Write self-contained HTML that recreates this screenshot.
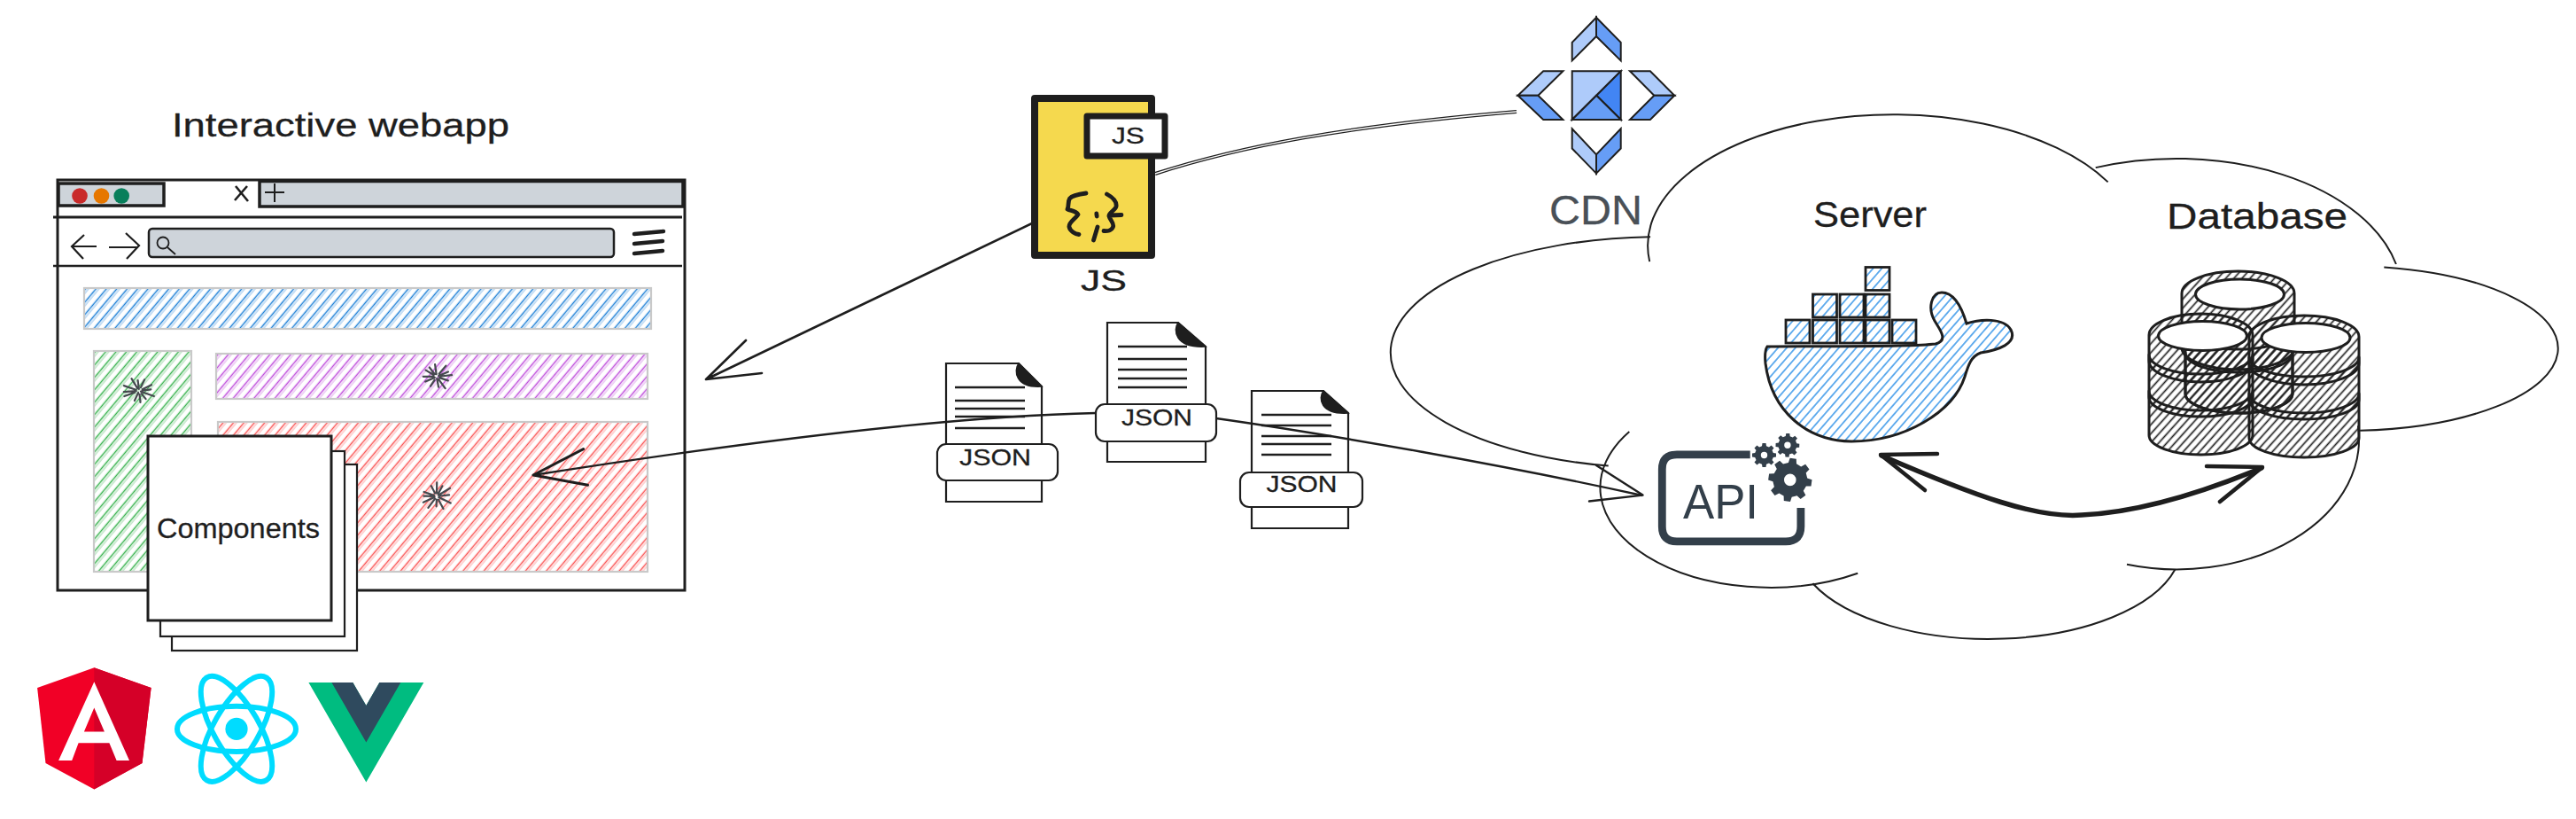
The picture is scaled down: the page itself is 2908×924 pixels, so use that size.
<!DOCTYPE html>
<html><head><meta charset="utf-8"><title>Diagram</title>
<style>
html,body{margin:0;padding:0;background:#ffffff;width:2908px;height:924px;overflow:hidden}
svg{display:block}
text{font-family:"Liberation Sans",sans-serif}
.hw{stroke-width:0.3px;stroke-linejoin:round}
</style></head>
<body>
<svg width="2908" height="924" viewBox="0 0 2908 924">
<defs>
<pattern id="hBlue" width="9" height="9" patternUnits="userSpaceOnUse" patternTransform="rotate(40)"><line x1="4.5" y1="-1" x2="4.5" y2="10" stroke="#1c7ed6" stroke-width="1.5"/><line x1="7.1" y1="-1" x2="7.1" y2="10" stroke="#1c7ed6" stroke-width="0.5"/></pattern>
<pattern id="hPurple" width="9" height="9" patternUnits="userSpaceOnUse" patternTransform="rotate(40)"><line x1="4.5" y1="-1" x2="4.5" y2="10" stroke="#be4bdb" stroke-width="1.5"/><line x1="7.1" y1="-1" x2="7.1" y2="10" stroke="#be4bdb" stroke-width="0.5"/></pattern>
<pattern id="hGreen" width="9" height="9" patternUnits="userSpaceOnUse" patternTransform="rotate(40)"><line x1="4.5" y1="-1" x2="4.5" y2="10" stroke="#37b24d" stroke-width="1.5"/><line x1="7.1" y1="-1" x2="7.1" y2="10" stroke="#37b24d" stroke-width="0.5"/></pattern>
<pattern id="hRed" width="9" height="9" patternUnits="userSpaceOnUse" patternTransform="rotate(40)"><line x1="4.5" y1="-1" x2="4.5" y2="10" stroke="#fa5252" stroke-width="1.5"/><line x1="7.1" y1="-1" x2="7.1" y2="10" stroke="#fa5252" stroke-width="0.5"/></pattern>
<pattern id="hWhale" width="7.4" height="7.4" patternUnits="userSpaceOnUse" patternTransform="rotate(41)"><line x1="3.7" y1="-1" x2="3.7" y2="8.4" stroke="#228be6" stroke-width="1.35"/></pattern>
<pattern id="hDark" width="6.8" height="6.8" patternUnits="userSpaceOnUse" patternTransform="rotate(42)"><line x1="3.4" y1="-1" x2="3.4" y2="7.8" stroke="#1e1e1e" stroke-width="1.7"/></pattern>
</defs>
<text class="hw" stroke="#1e1e1e" x="194" y="154" font-size="36" textLength="381" lengthAdjust="spacingAndGlyphs" fill="#1e1e1e">Interactive webapp</text>
<rect x="95" y="325" width="640" height="46" fill="url(#hBlue)" stroke="#c9c9c9" stroke-width="2.2"/>
<rect x="106" y="396" width="110" height="249" fill="url(#hGreen)" stroke="#c9c9c9" stroke-width="2.2"/>
<rect x="244" y="399" width="487" height="51" fill="url(#hPurple)" stroke="#c9c9c9" stroke-width="2.2"/>
<rect x="246" y="476" width="485" height="169" fill="url(#hRed)" stroke="#c9c9c9" stroke-width="2.2"/>
<path d="M65 203 H773 V666 H65 Z" fill="none" stroke="#1e1e1e" stroke-width="3"/>
<path d="M66 207 H185 V232 H66 Z" fill="#ced4da" stroke="#1e1e1e" stroke-width="3.5"/>
<path d="M293 204.5 H771 V233 H293 Z" fill="#ced4da" stroke="#1e1e1e" stroke-width="3.5"/>
<circle cx="90" cy="221" r="8.8" fill="#c92a2a"/><circle cx="114.5" cy="221" r="8.8" fill="#e67700"/><circle cx="137.2" cy="221" r="8.8" fill="#087f5b"/>
<path d="M266 210 L280 227 M279 210 L265 226" stroke="#1e1e1e" stroke-width="2.6" fill="none"/>
<path d="M299 217 H321 M310 207 V228" stroke="#1e1e1e" stroke-width="2" fill="none"/>
<path d="M60 245 H770" stroke="#1e1e1e" stroke-width="3"/>
<path d="M109 278 H82 M95 265 L81 278 L94 292" stroke="#1e1e1e" stroke-width="2.2" fill="none"/>
<path d="M123 279 H156 M142 263 L157 277 L143 292" stroke="#1e1e1e" stroke-width="2.2" fill="none"/>
<rect x="168" y="258" width="525" height="32" rx="4" fill="#ced4da" stroke="#1e1e1e" stroke-width="2.5"/>
<circle cx="184" cy="274" r="6.5" fill="none" stroke="#1e1e1e" stroke-width="1.8"/><path d="M189 279 L198 287" stroke="#1e1e1e" stroke-width="1.8"/>
<path d="M716 264 L749 261 M716 275 L748 272 M716 286 L748 283" stroke="#1e1e1e" stroke-width="4.5" stroke-linecap="round"/>
<path d="M60 300 H770" stroke="#1e1e1e" stroke-width="2.5"/>
<path d="M160.5 440.6 L170.3 439.4 M158.9 441.7 L173.9 447.0 M159.6 444.1 L164.6 450.1 M157.5 444.9 L158.5 453.8 M156.1 443.0 L151.9 452.0 M152.4 442.6 L140.4 447.0 M153.8 441.2 L139.9 442.2 M153.4 439.8 L139.9 435.1 M155.2 438.1 L148.5 427.2 M156.8 438.9 L155.6 429.1 M158.9 437.1 L163.1 428.3 M160.7 439.2 L171.0 434.2 " stroke="#45494e" stroke-width="2.2" fill="none" stroke-linecap="round"/>
<path d="M497.4 424.5 L510.0 423.1 M496.1 426.1 L505.8 429.4 M495.3 428.1 L502.6 438.2 M493.3 426.8 L495.0 436.6 M490.6 428.7 L486.0 435.6 M490.8 425.9 L480.2 430.5 M489.6 424.9 L477.7 424.8 M489.6 423.0 L480.6 417.6 M490.8 422.2 L484.8 414.5 M492.6 422.1 L491.1 411.1 M495.7 421.8 L503.4 412.6 M495.2 424.0 L505.9 419.5 " stroke="#45494e" stroke-width="2.2" fill="none" stroke-linecap="round"/>
<path d="M496.9 559.5 L507.1 558.4 M495.3 561.1 L508.7 567.6 M495.0 563.7 L500.5 573.9 M492.9 563.5 L492.6 571.3 M491.1 562.6 L483.4 572.8 M490.4 561.1 L477.8 566.7 M490.5 559.9 L478.3 559.7 M489.8 558.9 L478.6 555.0 M491.1 556.5 L486.7 548.1 M493.0 556.6 L493.2 544.3 M494.7 556.9 L499.4 548.3 M494.9 558.8 L508.0 550.8 " stroke="#45494e" stroke-width="2.2" fill="none" stroke-linecap="round"/>
<g stroke="#1e1e1e" fill="#ffffff"><rect x="194" y="524" width="209" height="210" stroke-width="2.2"/><rect x="181" y="509" width="208" height="209" stroke-width="2.2"/><rect x="167" y="492" width="207" height="208" stroke-width="3"/></g>
<text class="hw" stroke="#1e1e1e" x="177" y="607" font-size="32" textLength="184" lengthAdjust="spacingAndGlyphs" fill="#1e1e1e">Components</text>
<polygon points="106.3,753.3 170.6,776 160.5,861 106.3,890.4 51.5,861 42.1,776" fill="#f10026"/>
<polygon points="106.3,753.3 170.6,776 160.5,861 106.3,890.4" fill="#d50028"/>
<path d="M106.3 769.3 L66.1 858 H81.2 L88.6 838.3 H123.4 L131.6 858 H146 Z M106.3 798.6 L117.9 825.4 H94.9 Z" fill="#ffffff" fill-rule="evenodd"/>
<g transform="translate(267 822.4)" fill="none" stroke="#00dcff" stroke-width="6"><circle r="12.6" fill="#00dcff" stroke="none"/><ellipse rx="67" ry="25.6"/><ellipse rx="67" ry="25.6" transform="rotate(60)"/><ellipse rx="67" ry="25.6" transform="rotate(120)"/></g>
<g transform="translate(348.4 769.9) scale(0.4963)"><path d="M161.096.001l-30.225 52.351L100.647.001H-.005l130.877 226.688L261.749.001z" fill="#00bc80"/><path d="M161.096.001l-30.225 52.351L100.647.001H52.346l78.526 136.01L209.398.001z" fill="#2f4a5e"/></g>
<path d="M1304 196 C1400 165 1520 142 1712 126" fill="none" stroke="#1e1e1e" stroke-width="4"/>
<path d="M1304 196 C1400 165 1520 142 1712 126" fill="none" stroke="#fff" stroke-width="1.4"/>
<path d="M1165 252 L797 428 M842 384 L797 428 L860 421" fill="none" stroke="#1e1e1e" stroke-width="2.6" stroke-linejoin="round" stroke-linecap="round"/>
<rect x="1168" y="111" width="132" height="177" fill="#f5d94e" stroke="#1e1e1e" stroke-width="8" stroke-linejoin="round"/>
<rect x="1227" y="131" width="88" height="45" fill="#ffffff" stroke="#1e1e1e" stroke-width="7" stroke-linejoin="round"/>
<text class="hw" stroke="#1e1e1e" x="1255" y="162" font-size="25" textLength="37" lengthAdjust="spacingAndGlyphs" fill="#1e1e1e">JS</text>
<g fill="none" stroke="#1e1e1e" stroke-width="4.8" stroke-linecap="round" stroke-linejoin="round"><path d="M1226 218 C1218 219 1210 221 1207.5 224 C1205 228 1207 232 1205 236 C1208 238 1214 237 1217 242 C1214 247 1206 251 1207 256 C1208 261 1214 264 1218 264.5"/><path d="M1237.8 241 L1238.2 244"/><path d="M1239 256 L1234.5 271"/><path d="M1249.5 219 C1255 222 1261 227 1260 233 C1259 237 1253 239 1252 243 L1266 242.5 M1252 244 C1253 248 1258 252 1256.5 256 C1255 260 1250 261 1246 260.5"/></g>
<text class="hw" stroke="#1e1e1e" x="1220" y="328" font-size="33" textLength="52" lengthAdjust="spacingAndGlyphs" fill="#1e1e1e">JS</text>
<g stroke="#1e1e1e" stroke-width="2">
<polygon points="1774.7,47.9 1802,19.8 1802,41 1774.7,68.4" fill="#aecbfa"/>
<polygon points="1802,19.8 1829.7,47.9 1829.7,68.4 1802,41" fill="#669df6"/>
<polygon points="1774.7,145.3 1802,174.4 1802,195.6 1774.7,167.5" fill="#aecbfa"/>
<polygon points="1829.7,145.3 1802,174.4 1802,195.6 1829.7,167.5" fill="#669df6"/>
<polygon points="1742.2,80.3 1764.4,80.3 1736.4,107.7 1713.5,107.7" fill="#aecbfa"/>
<polygon points="1713.5,107.7 1736.4,107.7 1764.4,135 1742.2,135" fill="#669df6"/>
<polygon points="1840,80.3 1862.9,80.3 1890.3,107.7 1867.3,107.7" fill="#aecbfa"/>
<polygon points="1867.3,107.7 1890.3,107.7 1862.9,135 1840,135" fill="#669df6"/>
<polygon points="1774.7,80.3 1829.7,80.3 1774.7,135" fill="#aecbfa"/>
<polygon points="1829.7,80.3 1829.7,135 1802.2,107.7" fill="#4285f4"/>
<polygon points="1774.7,135 1829.7,135 1802.2,107.7" fill="#669df6"/>
</g>
<text class="hw" stroke="#495057" x="1749" y="253" font-size="46" textLength="105" lengthAdjust="spacingAndGlyphs" fill="#495057">CDN</text>
<path d="M1068 410 H1150 L1176 436 V566 H1068 Z" fill="#fff" stroke="#1e1e1e" stroke-width="2.2"/>
<path d="M1150 410 C1144 418 1146 438 1176 436 Z" fill="#1e1e1e" stroke="#1e1e1e" stroke-width="1.5"/>
<path d="M1078 437 H1157 M1078 452 H1157 M1078 461 H1157 M1078 470 H1157 M1078 483 H1157" stroke="#1e1e1e" stroke-width="2.4"/>
<rect x="1058" y="501" width="136" height="41" rx="10" fill="#fff" stroke="#1e1e1e" stroke-width="2.2"/>
<text class="hw" stroke="#1e1e1e" x="1083" y="525" font-size="26" textLength="81" lengthAdjust="spacingAndGlyphs" fill="#1e1e1e">JSON</text>
<path d="M1413 441 H1494 L1522 466 V596 H1413 Z" fill="#fff" stroke="#1e1e1e" stroke-width="2.2"/>
<path d="M1494 441 C1488 449 1490 468 1522 466 Z" fill="#1e1e1e" stroke="#1e1e1e" stroke-width="1.5"/>
<path d="M1424 468 H1503 M1424 480 H1503 M1424 492 H1503 M1424 501 H1503 M1424 513 H1503" stroke="#1e1e1e" stroke-width="2.4"/>
<rect x="1400" y="533" width="138" height="39" rx="10" fill="#fff" stroke="#1e1e1e" stroke-width="2.2"/>
<text class="hw" stroke="#1e1e1e" x="1429.5" y="555" font-size="26" textLength="80" lengthAdjust="spacingAndGlyphs" fill="#1e1e1e">JSON</text>
<path d="M602 536 C800 505 1050 470 1237 466 C1300 464 1340 466 1373 472 C1500 490 1700 525 1854 559" fill="none" stroke="#1e1e1e" stroke-width="2.4"/>
<path d="M1250 364 H1330 L1361 391 V521 H1250 Z" fill="#fff" stroke="#1e1e1e" stroke-width="2.2"/>
<path d="M1330 364 C1324 372 1326 393 1361 391 Z" fill="#1e1e1e" stroke="#1e1e1e" stroke-width="1.5"/>
<path d="M1262 391 H1340 M1262 405 H1340 M1262 417 H1340 M1262 427 H1340 M1262 437 H1340" stroke="#1e1e1e" stroke-width="2.4"/>
<rect x="1237" y="456" width="136" height="42" rx="10" fill="#fff" stroke="#1e1e1e" stroke-width="2.2"/>
<text class="hw" stroke="#1e1e1e" x="1266" y="480" font-size="26" textLength="80" lengthAdjust="spacingAndGlyphs" fill="#1e1e1e">JSON</text>
<path d="M658.6 506.6 L602 536 L663.5 547.3" fill="none" stroke="#1e1e1e" stroke-width="3" stroke-linecap="round" stroke-linejoin="round"/>
<path d="M1802 525 L1854.5 558.6 L1794 565.5" fill="none" stroke="#1e1e1e" stroke-width="2.4" stroke-linecap="round" stroke-linejoin="round"/>
<g fill="none" stroke="#1e1e1e" stroke-width="2"><path d="M1863.1 267.3 A304.2 130.4 0 0 0 1815.7 525.6"/><path d="M1862.2 295.1 A277.1 147.8 0 0 1 2379.6 205.4"/><path d="M2365.7 189.1 A254.5 153.7 0 0 1 2704.9 298.0"/><path d="M2691.3 301.4 A238.0 93.0 0 0 1 2664.1 485.8"/><path d="M2661.9 480.4 A205.4 146.7 0 0 1 2401.0 636.7"/><path d="M2455.4 642.6 A217.6 105.6 0 0 1 2046.4 658.3"/><path d="M1839.3 486.9 A191.9 112.8 0 0 0 2097.2 646.7"/></g>
<text class="hw" stroke="#1e1e1e" x="2047" y="256" font-size="40" textLength="128" lengthAdjust="spacingAndGlyphs" fill="#1e1e1e">Server</text>
<text class="hw" stroke="#1e1e1e" x="2446" y="258" font-size="40" textLength="204" lengthAdjust="spacingAndGlyphs" fill="#1e1e1e">Database</text>
<path d="M1995 391 C2060 390 2150 392 2185 388 C2200 384 2190 372 2184 362 C2176 348 2180 330 2192 330 C2205 330 2214 345 2220 365 C2235 360 2262 358 2270 372 C2278 388 2255 395 2236 398 C2225 402 2222 412 2218 425 C2205 465 2150 498 2090 498 C2040 497 2000 465 1993 410 C1992 400 1993 394 1995 391 Z" fill="url(#hWhale)" stroke="#1e1e1e" stroke-width="3"/>
<rect x="2016" y="361" width="27" height="26" fill="url(#hWhale)" stroke="#1e1e1e" stroke-width="2.8"/>
<rect x="2046.5" y="361" width="27" height="26" fill="url(#hWhale)" stroke="#1e1e1e" stroke-width="2.8"/>
<rect x="2077" y="361" width="27" height="26" fill="url(#hWhale)" stroke="#1e1e1e" stroke-width="2.8"/>
<rect x="2106" y="361" width="27" height="26" fill="url(#hWhale)" stroke="#1e1e1e" stroke-width="2.8"/>
<rect x="2136" y="361" width="27" height="26" fill="url(#hWhale)" stroke="#1e1e1e" stroke-width="2.8"/>
<rect x="2046.5" y="332" width="27" height="26" fill="url(#hWhale)" stroke="#1e1e1e" stroke-width="2.8"/>
<rect x="2077" y="332" width="27" height="26" fill="url(#hWhale)" stroke="#1e1e1e" stroke-width="2.8"/>
<rect x="2106" y="332" width="27" height="26" fill="url(#hWhale)" stroke="#1e1e1e" stroke-width="2.8"/>
<rect x="2106" y="301.5" width="27" height="26" fill="url(#hWhale)" stroke="#1e1e1e" stroke-width="2.8"/>
<path d="M1975.7 512.8 H1893 Q1876.3 512.8 1876.3 529.5 V594 Q1876.3 610.8 1893 610.8 H2016 Q2032.9 610.8 2032.9 594 V573" fill="none" stroke="#333f4a" stroke-width="8.8"/>
<text x="1900" y="585" font-size="55" textLength="85" lengthAdjust="spacingAndGlyphs" fill="#333f4a">API</text>
<path d="M2040.2 539.5 L2045.5 541.2 L2044.5 548.4 L2038.9 548.6 L2035.8 553.8 L2038.4 558.7 L2032.6 563.1 L2028.6 559.3 L2022.7 560.8 L2021.0 566.1 L2013.8 565.1 L2013.6 559.5 L2008.4 556.4 L2003.5 559.0 L1999.1 553.2 L2002.9 549.2 L2001.4 543.3 L1996.1 541.6 L1997.1 534.4 L2002.7 534.2 L2005.8 529.0 L2003.2 524.1 L2009.0 519.7 L2013.0 523.5 L2018.9 522.0 L2020.6 516.7 L2027.8 517.7 L2028.0 523.3 L2033.2 526.4 L2038.1 523.8 L2042.5 529.6 L2038.7 533.6 Z M2014.0 541.4 a6.8 6.8 0 1 0 13.6 0 a6.8 6.8 0 1 0 -13.6 0 Z" fill="#333f4a" fill-rule="evenodd"/>
<path d="M2001.8 511.0 L2005.0 511.5 L2005.0 515.5 L2001.8 516.0 L2000.5 519.0 L2002.5 521.6 L1999.6 524.5 L1997.0 522.5 L1994.0 523.8 L1993.5 527.0 L1989.5 527.0 L1989.0 523.8 L1986.0 522.5 L1983.4 524.5 L1980.5 521.6 L1982.5 519.0 L1981.2 516.0 L1978.0 515.5 L1978.0 511.5 L1981.2 511.0 L1982.5 508.0 L1980.5 505.4 L1983.4 502.5 L1986.0 504.5 L1989.0 503.2 L1989.5 500.0 L1993.5 500.0 L1994.0 503.2 L1997.0 504.5 L1999.6 502.5 L2002.5 505.4 L2000.5 508.0 Z M1987.8 513.5 a3.7 3.7 0 1 0 7.4 0 a3.7 3.7 0 1 0 -7.4 0 Z" fill="#333f4a" fill-rule="evenodd"/>
<path d="M2028.2 500.2 L2031.3 500.7 L2031.2 504.7 L2028.0 505.1 L2026.7 508.1 L2028.5 510.6 L2025.6 513.4 L2023.1 511.4 L2020.0 512.6 L2019.5 515.7 L2015.5 515.6 L2015.1 512.4 L2012.1 511.1 L2009.6 512.9 L2006.8 510.0 L2008.8 507.5 L2007.6 504.4 L2004.5 503.9 L2004.6 499.9 L2007.8 499.5 L2009.1 496.5 L2007.3 494.0 L2010.2 491.2 L2012.7 493.2 L2015.8 492.0 L2016.3 488.9 L2020.3 489.0 L2020.7 492.2 L2023.7 493.5 L2026.2 491.7 L2029.0 494.6 L2027.0 497.1 Z M2014.2 502.3 a3.7 3.7 0 1 0 7.4 0 a3.7 3.7 0 1 0 -7.4 0 Z" fill="#333f4a" fill-rule="evenodd"/>
<path d="M2463 331 A63.5 25 0 0 1 2590 331 V392 A63.5 25 0 0 1 2463 392 Z" fill="url(#hDark)" stroke="#1e1e1e" stroke-width="3" stroke-linejoin="round"/>
<ellipse cx="2528.5" cy="332" rx="50" ry="17" fill="#fff" stroke="#1e1e1e" stroke-width="3"/>
<path d="M2467 372 A60.5 22 0 0 0 2588 372 V444 A60.5 22 0 0 1 2467 444 Z" fill="url(#hDark)" stroke="#1e1e1e" stroke-width="3" stroke-linejoin="round"/>
<path d="M2467 398 A60.5 22 0 0 0 2588 398 V444 A60.5 22 0 0 1 2467 444 Z" fill="none" stroke="#1e1e1e" stroke-width="3" stroke-linejoin="round"/>
<path d="M2426 441 A58.5 22 0 0 0 2543 441 V491 A58.5 22 0 0 1 2426 491 Z" fill="url(#hDark)" stroke="#1e1e1e" stroke-width="3" stroke-linejoin="round"/>
<path d="M2426 400 A58.5 22 0 0 0 2543 400 V448 A58.5 22 0 0 1 2426 448 Z" fill="url(#hDark)" stroke="#1e1e1e" stroke-width="3" stroke-linejoin="round"/>
<path d="M2426 378 A58.5 24 0 0 1 2543 378 V407 A58.5 24 0 0 1 2426 407 Z" fill="url(#hDark)" stroke="#1e1e1e" stroke-width="3" stroke-linejoin="round"/>
<ellipse cx="2486.5" cy="379" rx="50" ry="16.5" fill="#fff" stroke="#1e1e1e" stroke-width="3"/>
<path d="M2539 444 A62.0 22 0 0 0 2663 444 V494 A62.0 22 0 0 1 2539 494 Z" fill="url(#hDark)" stroke="#1e1e1e" stroke-width="3" stroke-linejoin="round"/>
<path d="M2539 403 A62.0 22 0 0 0 2663 403 V451 A62.0 22 0 0 1 2539 451 Z" fill="url(#hDark)" stroke="#1e1e1e" stroke-width="3" stroke-linejoin="round"/>
<path d="M2539 380 A62.0 24 0 0 1 2663 380 V410 A62.0 24 0 0 1 2539 410 Z" fill="url(#hDark)" stroke="#1e1e1e" stroke-width="3" stroke-linejoin="round"/>
<ellipse cx="2603.0" cy="381" rx="50" ry="16.5" fill="#fff" stroke="#1e1e1e" stroke-width="3"/>
<g fill="none" stroke="#1e1e1e" stroke-linecap="round" stroke-linejoin="round"><path stroke-width="5.5" d="M2124 514 C2230 560 2300 585 2350 581 C2420 578 2500 550 2553 528"/><path stroke-width="4.5" d="M2187 512 L2123 513 L2173 553"/><path stroke-width="4.5" d="M2491 526 L2554 527 L2506 566"/></g>
</svg>
</body></html>
